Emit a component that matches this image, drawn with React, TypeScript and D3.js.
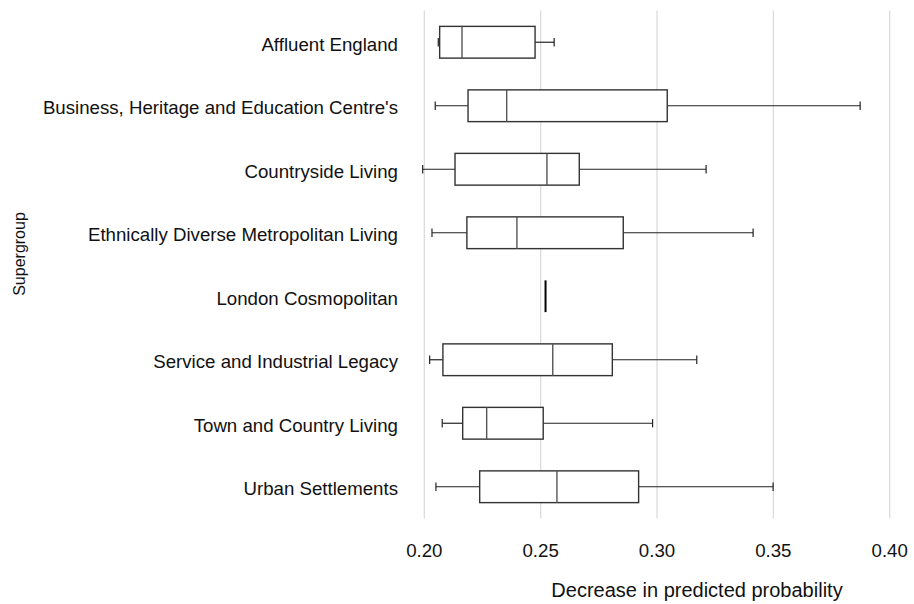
import React from "react";
import * as d3 from "d3";

// Supergroups and their five-number summaries of the decrease in predicted probability
const categories = [
  "Affluent England",
  "Business, Heritage and Education Centre's",
  "Countryside Living",
  "Ethnically Diverse Metropolitan Living",
  "London Cosmopolitan",
  "Service and Industrial Legacy",
  "Town and Country Living",
  "Urban Settlements",
];
const mins = [0.206, 0.2047, 0.1993, 0.2033, 0.2521, 0.2023, 0.2077, 0.205];
const q1s = [0.2066, 0.2188, 0.2132, 0.2183, 0.2521, 0.208, 0.2165, 0.2238];
const medians = [0.2162, 0.2354, 0.2527, 0.2398, 0.2521, 0.2552, 0.2268, 0.257];
const q3s = [0.2476, 0.3044, 0.2666, 0.2855, 0.2521, 0.2808, 0.2511, 0.2921];
const maxs = [0.2558, 0.3873, 0.3211, 0.3413, 0.2521, 0.3171, 0.2981, 0.3499];
const xTicks = [0.2, 0.25, 0.3, 0.35, 0.4];

const W = 914;
const H = 604;
const FONT = "'Liberation Sans', Arial, sans-serif";

export default function App() {
  const x = d3.scaleLinear().domain([0.2, 0.4]).range([424.3, 889.7]);
  const y = d3
    .scaleBand<string>()
    .domain(categories)
    .range([10.5, 518.5])
    .paddingInner(0.5)
    .paddingOuter(0.25);
  const bw = y.bandwidth();
  const fmt = d3.format(".2f");

  const rows = categories.map((c, i) => ({
    c,
    min: mins[i],
    q1: q1s[i],
    med: medians[i],
    q3: q3s[i],
    max: maxs[i],
  }));

  return (
    <svg
      width={W}
      height={H}
      style={{ position: "absolute", left: 0, top: 0, background: "#fff" }}
      fontFamily={FONT}
    >
      {/* vertical gridlines */}
      {xTicks.map((t) => (
        <line
          key={"g" + t}
          x1={x(t)}
          x2={x(t)}
          y1={10.5}
          y2={518.5}
          stroke="#d9d9d9"
          strokeWidth={1.2}
        />
      ))}

      {/* boxes */}
      {rows.map((r) => {
        const top = y(r.c)!;
        const cy = top + bw / 2;
        const cap = bw * 0.13;
        if (r.q3 - r.q1 < 1e-6) {
          return (
            <line
              key={r.c}
              x1={x(r.med)}
              x2={x(r.med)}
              y1={top}
              y2={top + bw}
              stroke="#000"
              strokeWidth={2}
            />
          );
        }
        return (
          <g key={r.c} stroke="#222" fill="none">
            <line x1={x(r.min)} x2={x(r.q1)} y1={cy} y2={cy} strokeWidth={1.2} />
            <line x1={x(r.q3)} x2={x(r.max)} y1={cy} y2={cy} strokeWidth={1.2} />
            <line x1={x(r.min)} x2={x(r.min)} y1={cy - cap} y2={cy + cap} strokeWidth={1.2} />
            <line x1={x(r.max)} x2={x(r.max)} y1={cy - cap} y2={cy + cap} strokeWidth={1.2} />
            <rect
              x={x(r.q1)}
              y={top}
              width={x(r.q3) - x(r.q1)}
              height={bw}
              fill="#fff"
              stroke="#333"
              strokeWidth={1.4}
            />
            <line
              x1={x(r.med)}
              x2={x(r.med)}
              y1={top}
              y2={top + bw}
              stroke="#555"
              strokeWidth={1.4}
            />
          </g>
        );
      })}

      {/* category labels */}
      {categories.map((c) => (
        <text
          key={"l" + c}
          x={398}
          y={y(c)! + bw / 2}
          dy="0.45em"
          textAnchor="end"
          fontSize={18.67}
          fill="#111"
        >
          {c}
        </text>
      ))}

      {/* x tick labels */}
      {xTicks.map((t) => (
        <text
          key={"t" + t}
          x={x(t)}
          y={556.7}
          textAnchor="middle"
          fontSize={18.67}
          fill="#111"
        >
          {fmt(t)}
        </text>
      ))}

      {/* axis titles */}
      <text x={697} y={597} textAnchor="middle" fontSize={20} fill="#111">
        Decrease in predicted probability
      </text>
      <text
        transform="translate(25,254) rotate(-90)"
        textAnchor="middle"
        fontSize={16}
        fill="#111"
      >
        Supergroup
      </text>
    </svg>
  );
}
